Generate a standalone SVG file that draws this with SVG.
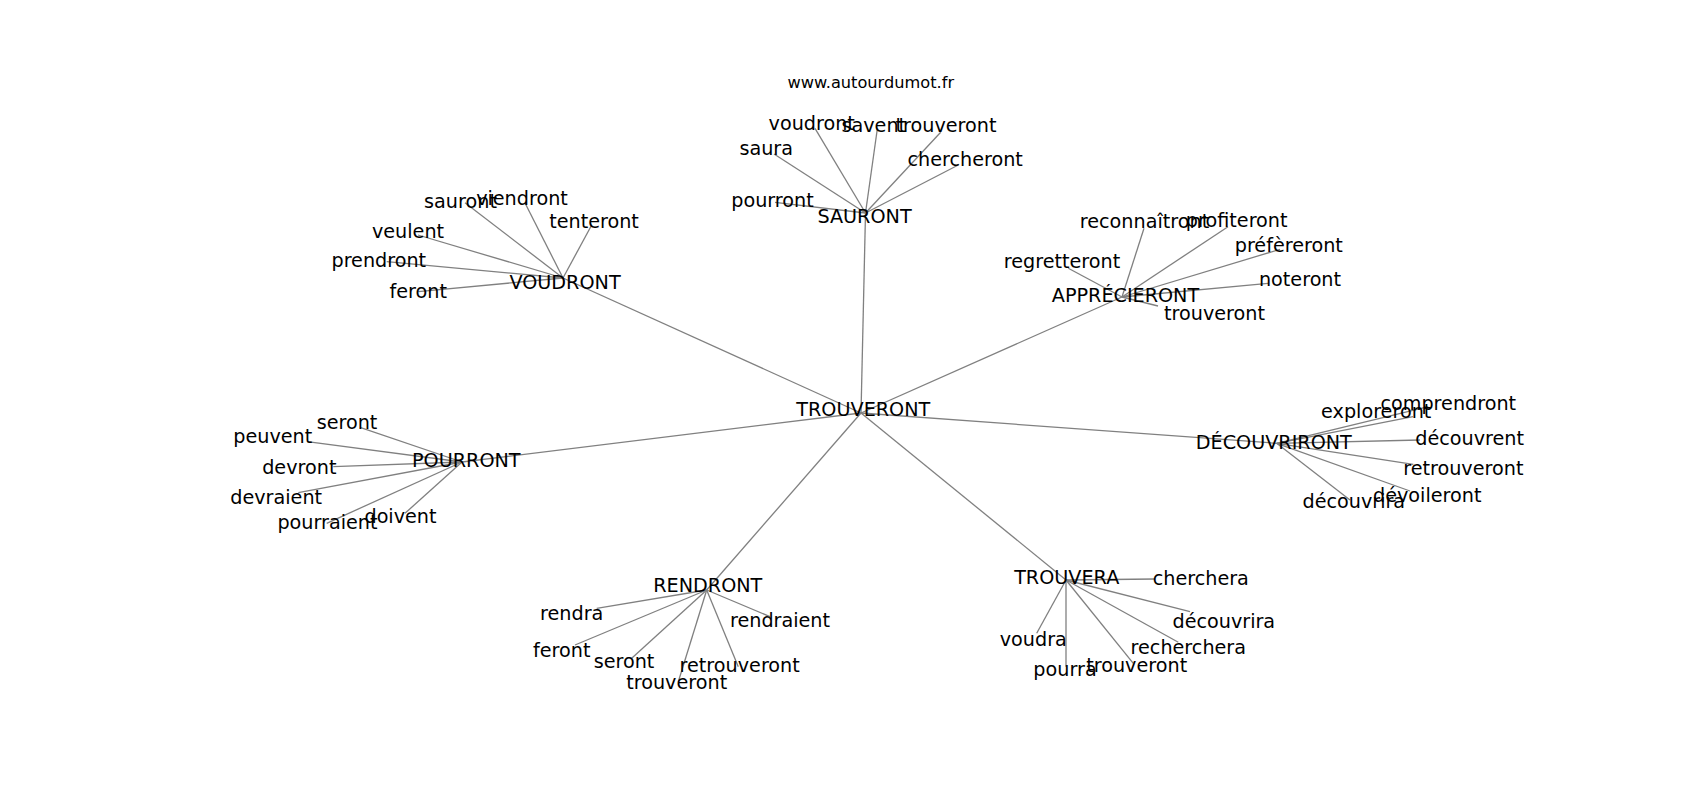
<svg xmlns="http://www.w3.org/2000/svg" width="1700" height="800" viewBox="0 0 1700 800">
<style>
.bg{fill:#ffffff}
.edges line{stroke:#808080;stroke-width:1.3;fill:none}
text{font-family:"DejaVu Sans","Liberation Sans",sans-serif;fill:#000000;text-anchor:middle}
.lbl{font-size:19.2px}
.wm{font-size:16.2px}
</style>
<rect class="bg" x="0" y="0" width="1700" height="800"/>
<text class="wm" x="870.8" y="88.3">www.autourdumot.fr</text>
<g id="connectors" class="edges">
<line x1="861" y1="413" x2="865.5" y2="213"/>
<line x1="861" y1="413" x2="563" y2="278"/>
<line x1="861" y1="413" x2="1122" y2="297"/>
<line x1="861" y1="413" x2="462" y2="462"/>
<line x1="861" y1="413" x2="1276.7" y2="443.3"/>
<line x1="861" y1="413" x2="706.7" y2="590"/>
<line x1="861" y1="413" x2="1066" y2="580"/>
<line x1="865.5" y1="213" x2="775" y2="202.3"/>
<line x1="865.5" y1="213" x2="774" y2="154"/>
<line x1="865.5" y1="213" x2="815" y2="128.3"/>
<line x1="865.5" y1="213" x2="877.3" y2="129"/>
<line x1="865.5" y1="213" x2="940.7" y2="132.3"/>
<line x1="865.5" y1="213" x2="958.3" y2="165"/>
<line x1="563" y1="278" x2="465" y2="202.7"/>
<line x1="563" y1="278" x2="525" y2="203"/>
<line x1="563" y1="278" x2="591.7" y2="225"/>
<line x1="563" y1="278" x2="418" y2="235"/>
<line x1="563" y1="278" x2="386.7" y2="261.7"/>
<line x1="563" y1="278" x2="418.3" y2="291.7"/>
<line x1="1122" y1="297" x2="1144" y2="228.3"/>
<line x1="1122" y1="297" x2="1228" y2="226.7"/>
<line x1="1122" y1="297" x2="1280" y2="249.3"/>
<line x1="1122" y1="297" x2="1068.3" y2="268.3"/>
<line x1="1122" y1="297" x2="1268" y2="283.3"/>
<line x1="1122" y1="297" x2="1158" y2="306"/>
<line x1="462" y1="462" x2="360" y2="427.3"/>
<line x1="462" y1="462" x2="307.3" y2="441.7"/>
<line x1="462" y1="462" x2="333.3" y2="466.7"/>
<line x1="462" y1="462" x2="298.3" y2="492.7"/>
<line x1="462" y1="462" x2="326.7" y2="523.3"/>
<line x1="462" y1="462" x2="405" y2="513.3"/>
<line x1="1276.7" y1="443.3" x2="1428.3" y2="406.7"/>
<line x1="1276.7" y1="443.3" x2="1413" y2="416.7"/>
<line x1="1276.7" y1="443.3" x2="1420" y2="440"/>
<line x1="1276.7" y1="443.3" x2="1413.3" y2="464.3"/>
<line x1="1276.7" y1="443.3" x2="1410" y2="491"/>
<line x1="1276.7" y1="443.3" x2="1350" y2="500"/>
<line x1="706.7" y1="590" x2="596.7" y2="608.3"/>
<line x1="706.7" y1="590" x2="770" y2="616.7"/>
<line x1="706.7" y1="590" x2="575" y2="645"/>
<line x1="706.7" y1="590" x2="631.7" y2="658.3"/>
<line x1="706.7" y1="590" x2="738.3" y2="666.7"/>
<line x1="706.7" y1="590" x2="678.3" y2="681.7"/>
<line x1="1066" y1="580" x2="1155" y2="579"/>
<line x1="1066" y1="580" x2="1190" y2="611.7"/>
<line x1="1066" y1="580" x2="1036.7" y2="633.3"/>
<line x1="1066" y1="580" x2="1178.3" y2="642.3"/>
<line x1="1066" y1="580" x2="1066" y2="666.7"/>
<line x1="1066" y1="580" x2="1133.3" y2="663.3"/>
</g>
<g id="n-trouveront"><text class="lbl" x="863.3" y="416">TROUVERONT</text></g>
<g id="n-sauront"><text class="lbl" x="864.5" y="223.3">SAURONT</text></g>
<g id="n-voudront"><text class="lbl" x="565" y="289.3">VOUDRONT</text></g>
<g id="n-apprecieront"><text class="lbl" x="1125.5" y="301.7">APPRÉCIERONT</text></g>
<g id="n-pourront"><text class="lbl" x="466.3" y="466.7">POURRONT</text></g>
<g id="n-decouvriront"><text class="lbl" x="1273.8" y="449.3">DÉCOUVRIRONT</text></g>
<g id="n-rendront"><text class="lbl" x="707.8" y="592.3">RENDRONT</text></g>
<g id="n-trouvera"><text class="lbl" x="1066.7" y="584.3">TROUVERA</text></g>
<g id="s-pourront"><text class="lbl" x="772.5" y="206.7">pourront</text></g>
<g id="s-saura"><text class="lbl" x="766.2" y="155">saura</text></g>
<g id="s-voudront"><text class="lbl" x="811.7" y="130">voudront</text></g>
<g id="s-savent"><text class="lbl" x="873.8" y="131.7">savent</text></g>
<g id="s-trouveront"><text class="lbl" x="946" y="132.3">trouveront</text></g>
<g id="s-chercheront"><text class="lbl" x="965.2" y="166">chercheront</text></g>
<g id="v-sauront"><text class="lbl" x="460.5" y="208.3">sauront</text></g>
<g id="v-viendront"><text class="lbl" x="522" y="205">viendront</text></g>
<g id="v-tenteront"><text class="lbl" x="594" y="228.3">tenteront</text></g>
<g id="v-veulent"><text class="lbl" x="408" y="238.3">veulent</text></g>
<g id="v-prendront"><text class="lbl" x="378.8" y="267.3">prendront</text></g>
<g id="v-feront"><text class="lbl" x="418.3" y="298.3">feront</text></g>
<g id="a-reconnaitront"><text class="lbl" x="1144.5" y="228.3">reconnaîtront</text></g>
<g id="a-profiteront"><text class="lbl" x="1236.7" y="227.3">profiteront</text></g>
<g id="a-prefereront"><text class="lbl" x="1288.8" y="251.7">préfèreront</text></g>
<g id="a-regretteront"><text class="lbl" x="1062" y="268.3">regretteront</text></g>
<g id="a-noteront"><text class="lbl" x="1300" y="286">noteront</text></g>
<g id="a-trouveront"><text class="lbl" x="1214.5" y="320">trouveront</text></g>
<g id="p-seront"><text class="lbl" x="347" y="429.3">seront</text></g>
<g id="p-peuvent"><text class="lbl" x="272.8" y="443.3">peuvent</text></g>
<g id="p-devront"><text class="lbl" x="299.3" y="474">devront</text></g>
<g id="p-devraient"><text class="lbl" x="276.2" y="504">devraient</text></g>
<g id="p-pourraient"><text class="lbl" x="327.5" y="529.3">pourraient</text></g>
<g id="p-doivent"><text class="lbl" x="400.5" y="522.7">doivent</text></g>
<g id="d-comprendront"><text class="lbl" x="1448.3" y="410">comprendront</text></g>
<g id="d-exploreront"><text class="lbl" x="1376.2" y="418.3">exploreront</text></g>
<g id="d-decouvrent"><text class="lbl" x="1469.7" y="445">découvrent</text></g>
<g id="d-retrouveront"><text class="lbl" x="1463.3" y="475">retrouveront</text></g>
<g id="d-devoileront"><text class="lbl" x="1427.2" y="502.3">dévoileront</text></g>
<g id="d-decouvrira"><text class="lbl" x="1353.8" y="508.3">découvrira</text></g>
<g id="r-rendra"><text class="lbl" x="571.7" y="620">rendra</text></g>
<g id="r-rendraient"><text class="lbl" x="780" y="626.7">rendraient</text></g>
<g id="r-feront"><text class="lbl" x="561.7" y="656.7">feront</text></g>
<g id="r-seront"><text class="lbl" x="624" y="668.3">seront</text></g>
<g id="r-retrouveront"><text class="lbl" x="739.7" y="671.7">retrouveront</text></g>
<g id="r-trouveront"><text class="lbl" x="676.7" y="689">trouveront</text></g>
<g id="t-cherchera"><text class="lbl" x="1200.8" y="585">cherchera</text></g>
<g id="t-decouvrira"><text class="lbl" x="1223.8" y="627.7">découvrira</text></g>
<g id="t-voudra"><text class="lbl" x="1033.3" y="645.7">voudra</text></g>
<g id="t-recherchera"><text class="lbl" x="1188.3" y="654.3">recherchera</text></g>
<g id="t-pourra"><text class="lbl" x="1065" y="675.7">pourra</text></g>
<g id="t-trouveront"><text class="lbl" x="1136.7" y="672.3">trouveront</text></g>
</svg>
